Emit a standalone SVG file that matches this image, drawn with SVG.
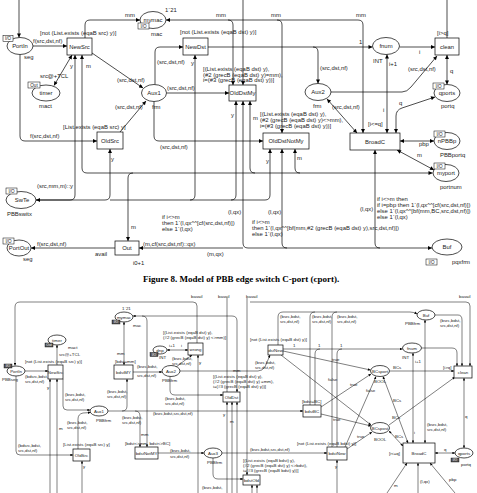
<svg xmlns="http://www.w3.org/2000/svg" width="477" height="493" viewBox="0 0 477 493">
<defs>
<marker id="a" viewBox="0 0 10 10" refX="10" refY="5" markerWidth="5" markerHeight="4" markerUnits="userSpaceOnUse" orient="auto-start-reverse"><path d="M0,0 L10,5 L0,10 z" fill="#000"/></marker>
<marker id="b" viewBox="0 0 10 10" refX="10" refY="5" markerWidth="3.2" markerHeight="2.6" markerUnits="userSpaceOnUse" orient="auto-start-reverse"><path d="M0,0 L10,5 L0,10 z" fill="#000"/></marker>
</defs>
<style>
text{font-family:"Liberation Sans",Arial,sans-serif;font-size:5.9px;fill:#222}
.m{text-anchor:middle}
text.s{font-size:4.4px}
text.tg{font-size:4.6px}
text.ts{font-size:3.4px;fill:#fff}
text.cap{font-family:"Liberation Serif","Times New Roman",serif;font-size:9px;font-weight:bold;fill:#000}
.node ellipse,.node rect{fill:#fff;stroke:#000;stroke-width:0.7}
.node rect.tag{fill:#fff;stroke:#000;stroke-width:0.5}
.node rect.tagd{fill:#555;stroke:#000;stroke-width:0.4}
#connectors path{fill:none;stroke:#000;stroke-width:0.7}
#connectors2 path{fill:none;stroke:#000;stroke-width:0.5}
</style>
<rect width="477" height="493" fill="#fff"/>

<g id="connectors">
<path d="M19,0 V37.5" marker-end="url(#a)"/>
<path d="M447,0 V38"/>
<path d="M243,0 V85" marker-end="url(#a)"/>
<path d="M85,38 V25 Q85,20 90,20 H140" marker-end="url(#a)"/>
<path d="M33,46 H67" marker-end="url(#a)"/>
<path d="M72,55 L54,85.5" marker-start="url(#a)" marker-end="url(#a)"/>
<path d="M92,53 L143,88" marker-end="url(#a)"/>
<path d="M120,132 L146,101" marker-end="url(#a)"/>
<path d="M155,84.5 V52 Q155,47 160,47 H183" marker-end="url(#a)"/>
<path d="M166.5,93 H229" marker-end="url(#a)"/>
<path d="M154,101.5 V136 Q154,141 159,141 H263" marker-end="url(#a)"/>
<path d="M208,47 H313 Q318,47 318,52 V83.5" marker-end="url(#a)"/>
<path d="M313,47 H372.5" marker-end="url(#a)"/>
<path d="M399.5,47 H435" marker-end="url(#a)"/>
<path d="M447,55 V84.5" marker-start="url(#a)" marker-end="url(#a)"/>
<path d="M331,92 H402 Q407,92 411,87 L437,56" marker-end="url(#a)"/>
<path d="M327,99 L357,133" marker-start="url(#a)" marker-end="url(#a)"/>
<path d="M387,54.5 V133" marker-start="url(#a)" marker-end="url(#a)"/>
<path d="M435,97 L402,108 Q396,110 396,116 V133" marker-start="url(#a)" marker-end="url(#a)"/>
<path d="M400,141 H434" marker-start="url(#a)" marker-end="url(#a)"/>
<path d="M397,150 L434,170" marker-start="url(#a)" marker-end="url(#a)"/>
<path d="M166,20 H228 Q233,20 233,25 V85" marker-start="url(#a)" marker-end="url(#a)"/>
<path d="M228,20 H277 Q282,20 282,25 V133" marker-end="url(#a)"/>
<path d="M277,20 H358 Q363,20 363,25 V133" marker-end="url(#a)"/>
<path d="M20,54.5 V136 Q20,141 25,141 H97" marker-end="url(#a)"/>
<path d="M110,149 V195 Q110,200 105,200 H36" marker-start="url(#a)" marker-end="url(#a)"/>
<path d="M75,55 V195 Q75,200 70,200 H36" marker-start="url(#a)"/>
<path d="M195,55 V195 Q195,200 190,200 H110" marker-start="url(#a)"/>
<path d="M236,101 V195 Q236,200 231,200 H190" marker-start="url(#a)"/>
<path d="M270,149 V195 Q270,200 265,200 H231" marker-start="url(#a)"/>
<path d="M82,55 V168 Q82,173 87,173 H432.5" marker-start="url(#a)" marker-end="url(#a)"/>
<path d="M250,101 V168 Q250,173 255,173" marker-start="url(#a)"/>
<path d="M295,149 V168 Q295,173 300,173" marker-start="url(#a)"/>
<path d="M128,241 V178 Q128,173 133,173" marker-start="url(#a)"/>
<path d="M243,101 V243 Q243,248 248,248 H432" marker-start="url(#a)" marker-end="url(#a)"/>
<path d="M282,149 V243 Q282,248 287,248" marker-start="url(#a)"/>
<path d="M375,150 V243 Q375,248 380,248" marker-start="url(#a)"/>
<path d="M115,248 H31" marker-end="url(#a)"/>
<path d="M243,248 H139" marker-end="url(#a)"/>
</g>

<g id="arclabels">
<text x="125" y="17">mm</text>
<text x="216" y="17">mm</text>
<text x="271" y="17">mm</text>
<text x="356" y="17">mm</text>
<text x="165" y="12">1`21</text>
<text x="33" y="43">f(src,dst,nf)</text>
<text x="40" y="35">[not (List.exists (eqaB src) y)]</text>
<text x="180" y="34">[not (List.exists (eqaB dst) y)]</text>
<text x="40" y="78">src@+TCL</text>
<text x="70" y="68">y</text>
<text x="86" y="68">m</text>
<text x="117" y="82">(src,dst,nf)</text>
<text x="115" y="109">(src,dst,nf)</text>
<text x="157" y="64">(src,dst,nf)</text>
<text x="191" y="65">y</text>
<text x="167" y="90">(src,dst,nf)</text>
<text x="203" y="71">[(List.exists (eqaB dst) y),</text>
<text x="203" y="76.5">(#2 (grecB (eqaB dst) y)=mm),</text>
<text x="203" y="82">i=(#3 (grecB (eqaB dst) y))]</text>
<text x="231" y="117">y</text>
<text x="253" y="120">m</text>
<text x="260" y="116">[(List.exists (eqaB dst) y),</text>
<text x="260" y="122">(#2 (grecB (eqaB dst) y)&lt;&gt;mm),</text>
<text x="260" y="128">i=(#3 (grecB (eqaB dst) y))]</text>
<text x="320" y="70">(src,dst,nf)</text>
<text x="359" y="44">1</text>
<text x="419" y="54">i</text>
<text x="437" y="35">[i&gt;q]</text>
<text x="450" y="73">q</text>
<text x="408" y="71">(src,dst,nf)</text>
<text x="332" y="109">(src,dst,nf)</text>
<text x="389" y="66">i+1</text>
<text x="383" y="112">i</text>
<text x="399" y="105">q</text>
<text x="368" y="126">[i&lt;=q]</text>
<text x="419" y="146">pbp</text>
<text x="417" y="157">m</text>
<text x="63" y="129">[List.exists (eqaB src) y]</text>
<text x="30" y="138">f(src,dst,nf)</text>
<text x="160" y="149">(src,dst,nf)</text>
<text x="111" y="161">y</text>
<text x="266" y="163">y</text>
<text x="297" y="160">m</text>
<text x="37" y="188">(src,mm,m)::y</text>
<text x="131" y="229">m</text>
<text x="228" y="214">(l,qx)</text>
<text x="268" y="214">(l,qx)</text>
<text x="360" y="211">(l,qx)</text>
<text x="162" y="219">if i&lt;&gt;m</text>
<text x="162" y="225">then 1`(l,qx^^[cf(src,dst,nf)])</text>
<text x="162" y="231">else 1`(l,qx)</text>
<text x="252" y="224">if i&lt;&gt;m</text>
<text x="252" y="230">then 1`(l,qx^^[bf(mm,#2 (grecB (eqaB dst) y),src,dst,nf)])</text>
<text x="252" y="236">else 1`(l,qx)</text>
<text x="377" y="201">if i&lt;&gt;m then</text>
<text x="377" y="207">if i=pbp then 1`(l,qx^^[cf(src,dst,nf)])</text>
<text x="377" y="213">else 1`(l,qx^^[bf(mm,BC,src,dst,nf)])</text>
<text x="377" y="219">else 1`(l,qx)</text>
<text x="37" y="246">f(src,dst,nf)</text>
<text x="143" y="246">(m,cf(src,dst,nf)::qx)</text>
<text x="207" y="256">(m,qx)</text>
</g>

<g id="PortIn" class="node"><ellipse cx="20" cy="46" rx="13" ry="8.5"/><text class="m" x="20" y="48">PortIn</text><rect class="tag" x="3" y="35.5" width="10" height="6"/><text class="tg m" x="8" y="40.3">I/O</text><text x="24" y="59">seg</text></g>
<g id="NewSrc" class="node"><rect x="67" y="38" width="25" height="17"/><text class="m" x="79.5" y="48.5">NewSrc</text></g>
<g id="mymac" class="node"><ellipse cx="153" cy="20" rx="13" ry="8.5"/><text class="m" x="153" y="22">mymac</text><rect class="tag" x="138" y="23" width="11" height="6"/><text class="tg m" x="143.5" y="27.8">I/O</text><text x="151" y="36">mac</text></g>
<g id="timer" class="node"><ellipse cx="46" cy="93" rx="14" ry="8"/><text class="m" x="46" y="95">timer</text><rect class="tag" x="28" y="82" width="12" height="6"/><text class="tg m" x="34" y="86.8">Out</text><text x="39" y="108">mact</text></g>
<g id="Aux1" class="node"><ellipse cx="154" cy="93" rx="12.5" ry="8.5"/><text class="m" x="154" y="95">Aux1</text><text x="152" y="109">frm</text></g>
<g id="NewDst" class="node"><rect x="183" y="38" width="25" height="17"/><text class="m" x="195.5" y="48.5">NewDst</text></g>
<g id="OldDstMy" class="node"><rect x="229" y="85" width="27" height="16"/><text class="m" x="242.5" y="95">OldDstMy</text></g>
<g id="fnum" class="node"><ellipse cx="386" cy="46" rx="13.5" ry="8.5"/><text class="m" x="386" y="48">fnum</text><text x="373" y="63">INT</text></g>
<g id="clean" class="node"><rect x="435" y="38" width="24" height="17"/><text class="m" x="447" y="48.5">clean</text></g>
<g id="Aux2" class="node"><ellipse cx="318" cy="92" rx="13" ry="8.5"/><text class="m" x="318" y="94">Aux2</text><text x="313" y="108">frm</text></g>
<g id="qports" class="node"><ellipse cx="447" cy="93" rx="13" ry="8.5"/><text class="m" x="447" y="95">qports</text><rect class="tag" x="433" y="83" width="11" height="6"/><text class="tg m" x="438.5" y="87.8">I/O</text><text x="441" y="108">portq</text></g>
<g id="OldSrc" class="node"><rect x="97" y="132" width="26" height="17"/><text class="m" x="110" y="142.5">OldSrc</text></g>
<g id="OldDstNotMy" class="node"><rect x="263" y="133" width="46" height="16"/><text class="m" x="286" y="143">OldDstNotMy</text></g>
<g id="BroadC" class="node"><rect x="350" y="133" width="50" height="17"/><text class="m" x="375" y="143.5">BroadC</text></g>
<g id="nPBBp" class="node"><ellipse cx="447" cy="141" rx="13" ry="8.5"/><text class="m" x="447" y="143">nPBBp</text><rect class="tag" x="434" y="131" width="11" height="6"/><text class="tg m" x="439.5" y="135.8">I/O</text><text x="440" y="157">PBBportq</text></g>
<g id="myport" class="node"><ellipse cx="446" cy="173" rx="13" ry="8.5"/><text class="m" x="446" y="175">myport</text><rect class="tag" x="434" y="163" width="11" height="6"/><text class="tg m" x="439.5" y="167.8">I/O</text><text x="440" y="189">portnum</text></g>
<g id="SwTe" class="node"><ellipse cx="21" cy="200" rx="15" ry="8.5"/><text class="m" x="22" y="202">SwTe</text><rect class="tag" x="6" y="188" width="11" height="6"/><text class="tg m" x="11.5" y="192.8">I/O</text><text x="7" y="216">PBBswitx</text></g>
<g id="PortOut" class="node"><ellipse cx="19" cy="248" rx="12" ry="8"/><text class="m" x="19" y="250">PortOut</text><rect class="tag" x="3" y="238" width="11" height="6"/><text class="tg m" x="8.5" y="242.8">I/O</text><text x="23" y="261">seg</text></g>
<g id="Out" class="node"><rect x="115" y="241" width="24" height="14"/><text class="m" x="127" y="250">Out</text><text x="95" y="256">avail</text><text x="133" y="265">i0+1</text></g>
<g id="Buf" class="node"><ellipse cx="447" cy="247" rx="15" ry="8"/><text class="m" x="447" y="249">Buf</text><rect class="tag" x="426" y="259" width="11" height="6"/><text class="tg m" x="431.5" y="263.8">I/O</text><text x="452" y="264">pqxfrm</text></g>

<text class="cap" x="143" y="282">Figure 8. Model of PBB edge switch C-port (cport).</text>

<g id="connectors2">
<path d="M197,343 V306 Q197,302 193,302 H20 Q15,302 15,307 V365.5" marker-end="url(#b)"/>
<path d="M227,298 V392"/>
<path d="M247,298 V475" marker-end="url(#b)"/>
<path d="M250,302 H466 Q470,302 470,306 V366" marker-end="url(#b)"/>
<path d="M133,316 H232 Q237,316 237,321 V392" marker-start="url(#b)" marker-end="url(#b)"/>
<path d="M124,322 V365" marker-start="url(#b)" marker-end="url(#b)"/>
<path d="M142,316 Q147,316 147,321 V447" marker-end="url(#b)"/>
<path d="M57,365 V345" marker-end="url(#b)"/>
<path d="M25,371 H48" marker-end="url(#b)"/>
<path d="M63,379 V406 Q63,410 67,410 H90" marker-end="url(#b)"/>
<path d="M78,449 V419 Q78,414 83,413 L90.5,412.5" marker-end="url(#b)"/>
<path d="M16,376 V451 Q16,455 20,455 H73" marker-end="url(#b)"/>
<path d="M50,493 V379" marker-end="url(#b)"/>
<path d="M57,493 V379" marker-end="url(#b)"/>
<path d="M82,493 V461" marker-end="url(#b)"/>
<path d="M108,411 H122 Q127,411 127,406 V379" marker-end="url(#b)"/>
<path d="M122,411 H135 Q140,411 140,416 V447" marker-end="url(#b)"/>
<path d="M135,411 H303" marker-end="url(#b)"/>
<path d="M133,372 H162" marker-end="url(#b)"/>
<path d="M158,453 H204" marker-end="url(#b)"/>
<path d="M176,367 L192,355" marker-end="url(#b)"/>
<path d="M167,350 H188" marker-start="url(#b)" marker-end="url(#b)"/>
<path d="M198,493 V355" marker-end="url(#b)"/>
<path d="M180,371 H258 Q262,371 265,367 L270,355" marker-end="url(#b)"/>
<path d="M170,376.5 V390 Q170,395 175,395 H223" marker-end="url(#b)"/>
<path d="M227,493 V402" marker-end="url(#b)"/>
<path d="M232,493 V402" marker-end="url(#b)"/>
<path d="M237,493 V402" marker-end="url(#b)"/>
<path d="M278,345 V317 Q278,312 283,312 H410 Q414,312 417,314" marker-end="url(#b)"/>
<path d="M310,405 V317 Q310,312 315,312"/>
<path d="M332,447 V317 Q332,312 337,312"/>
<path d="M283,349 H402.5" marker-end="url(#b)"/>
<path d="M315,405 V354 Q315,349 320,349"/>
<path d="M337,447 V354 Q337,349 342,349"/>
<path d="M435,315 H458 Q462,315 462,320 V366" marker-end="url(#b)"/>
<path d="M425,320 V443" marker-start="url(#b)" marker-end="url(#b)"/>
<path d="M421.5,348 H452 Q457,348 457,353 V366" marker-end="url(#b)"/>
<path d="M413,353 V443" marker-start="url(#b)" marker-end="url(#b)"/>
<path d="M464,378 V448" marker-start="url(#b)" marker-end="url(#b)"/>
<path d="M389.5,371 H454" marker-end="url(#b)"/>
<path d="M389,425 L455,377" marker-end="url(#b)"/>
<path d="M383,376.5 L408,443" marker-start="url(#b)" marker-end="url(#b)"/>
<path d="M389,431 L403,446" marker-start="url(#b)" marker-end="url(#b)"/>
<path d="M435,453 H455" marker-start="url(#b)" marker-end="url(#b)"/>
<path d="M387,493 L407,463" marker-end="url(#b)"/>
<path d="M418,493 V463" marker-end="url(#b)"/>
<path d="M455,493 L430,463" marker-end="url(#b)"/>
<path d="M283,351 L370.5,370" marker-end="url(#b)"/>
<path d="M281,355 L371,425" marker-end="url(#b)"/>
<path d="M321,407 L371,374" marker-end="url(#b)"/>
<path d="M321,414 L371,426" marker-end="url(#b)"/>
<path d="M345,447 L376,376.5" marker-end="url(#b)"/>
<path d="M347,449 L372,432" marker-end="url(#b)"/>
<path d="M222,453 H327" marker-end="url(#b)"/>
<path d="M213,458 V474 Q213,479 218,479 H243" marker-end="url(#b)"/>
<path d="M252,493 V485" marker-end="url(#b)"/>
<path d="M257,493 V485" marker-end="url(#b)"/>
<path d="M337,493 V460" marker-end="url(#b)"/>
</g>

<g id="arclabels2">
<text class="s" x="191" y="298">bavail</text>
<text class="s" x="218" y="298">bavail</text>
<text class="s" x="246" y="298">bavail</text>
<text class="s" x="459" y="298">bavail</text>
<text class="s" x="122" y="310">1`21</text>
<text class="s" x="117" y="355">mm</text>
<text class="s" x="141" y="436">mm</text>
<text class="s" x="233" y="372">mm</text>
<text class="s" x="59" y="356">src@+TCL</text>
<text class="s" x="25" y="363">[not (List.exists (eqaB src) y)]</text>
<text class="s" x="25" y="378">(bdsrc,bdst,</text><text class="s" x="25" y="382.5">src,dst,nf)</text>
<text class="s" x="65" y="396">(bsrc,bdst,</text><text class="s" x="65" y="400.5">src,dst,nf)</text>
<text class="s" x="107" y="393">(bsrc,bdst,</text><text class="s" x="107" y="397.5">src,dst,nf)</text>
<text class="s" x="67" y="424">(bsrc,bdst,</text><text class="s" x="67" y="428.5">src,dst,nf)</text>
<text class="s" x="122" y="419">(bsrc,bdst,</text><text class="s" x="122" y="423.5">src,dst,nf)</text>
<text class="s" x="18" y="447">(bdsrc,bdst,</text><text class="s" x="18" y="451.5">src,dst,nf)</text>
<text class="s" x="63" y="446">[List.exists (eqaB src) y]</text>
<text class="s" x="47" y="389">y</text>
<text class="s" x="59" y="430">m</text>
<text class="s" x="83" y="468">y</text>
<text class="s" x="115" y="363">[bdst=mm]</text>
<text class="s" x="137" y="368">(bsrc,bdst,</text><text class="s" x="137" y="376.5">src,dst,nf)</text>
<text class="s" x="125" y="445">[bdst&lt;&gt;mm, bdst&lt;&gt;BC]</text>
<text class="s" x="153" y="415">(bsrc,bdst,src,dst,nf)</text>
<text class="s" x="170" y="452">(bsrc,bdst,</text><text class="s" x="170" y="457.5">src,dst,nf)</text>
<text class="s" x="163" y="334">[(List.exists (eqaB dst) y),</text>
<text class="s" x="163" y="339">(#2 (grecB (eqaB dst) y) &lt;&gt;mm)]</text>
<text class="s" x="169" y="347">i+1</text>
<text class="s" x="181" y="347">i</text>
<text class="s" x="172" y="360">(bsrc,bdst,</text><text class="s" x="172" y="364.5">src,dst,nf)</text>
<text class="s" x="199" y="364">y</text>
<text class="s" x="255" y="364">(bsrc,bdst,</text><text class="s" x="255" y="368.5">src,dst,nf)</text>
<text class="s" x="213" y="378">[(List.exists (eqaB dst) y),</text>
<text class="s" x="213" y="383">(#2 (grecB (eqaB dst) y) =mm),</text>
<text class="s" x="213" y="388">i=(#3 (grecB (eqaB dst) y))]</text>
<text class="s" x="165" y="400">(bsrc,bdst,</text><text class="s" x="165" y="404.5">src,dst,nf)</text>
<text class="s" x="223" y="416">y</text>
<text class="s" x="230" y="423">m</text>
<text class="s" x="250" y="341">[not (List.exists (eqaB dst) y)]</text>
<text class="s" x="280" y="318">(bsrc,bdst,</text><text class="s" x="280" y="322.5">src,dst,nf)</text>
<text class="s" x="312" y="318">(bsrc,bdst,</text><text class="s" x="312" y="322.5">src,dst,nf)</text>
<text class="s" x="337" y="318">(bsrc,bdst,</text><text class="s" x="337" y="322.5">src,dst,nf)</text>
<text class="s" x="293" y="347">1</text>
<text class="s" x="318" y="347">1</text>
<text class="s" x="340" y="347">1</text>
<text class="s" x="302" y="403">[bdst=BC]</text>
<text class="s" x="332" y="361">true</text>
<text class="s" x="328" y="381">false</text>
<text class="s" x="350" y="386">true</text>
<text class="s" x="333" y="421">true</text>
<text class="s" x="366" y="392">false</text>
<text class="s" x="357" y="438">true</text>
<text class="s" x="297" y="445">[not (List.exists (eqaB bdst) y)]</text>
<text class="s" x="250" y="451">(bsrc,bdst,src,dst,nf)</text>
<text class="s" x="243" y="462">[(List.exists (eqaB bdst) y),</text>
<text class="s" x="243" y="467">(#2 (grecB (eqaB dst) y) &lt;&gt;bdst),</text>
<text class="s" x="243" y="472">i=(#3 (grecB (eqaB bdst) y))]</text>
<text class="s" x="202" y="489">(bsrc,bdst,</text>
<text class="s" x="335" y="468">y</text>
<text class="s" x="440" y="322">(bsrc,bdst,</text><text class="s" x="440" y="326.5">src,dst,nf)</text>
<text class="s" x="427" y="426">(bsrc,bdst,</text><text class="s" x="427" y="430.5">src,dst,nf)</text>
<text class="s" x="443" y="369">[i&gt;q]</text>
<text class="s" x="393" y="369">BCs</text>
<text class="s" x="392" y="419">BCs</text>
<text class="s" x="393" y="402">BCs</text>
<text class="s" x="395" y="438">BCs</text>
<text class="s" x="414" y="434">i</text>
<text class="s" x="465" y="418">q</text>
<text class="s" x="444" y="451">q</text>
<text class="s" x="389" y="455">[i&lt;=q]</text>
<text class="s" x="394" y="487">m</text>
<text class="s" x="420" y="483">(l,qx)</text>
<text class="s" x="449" y="481">pbp</text>
</g>

<g id="b_mymac" class="node"><ellipse cx="124" cy="317" rx="9" ry="5"/><text class="s m" x="124" y="318.5">mymac</text><rect class="tagd" x="112" y="320" width="8" height="4"/><text class="ts m" x="116" y="323">I/O</text><text class="s" x="133" y="327">mac</text></g>
<g id="b_timer" class="node"><ellipse cx="57" cy="340" rx="9" ry="5"/><text class="s m" x="57" y="341.5">timer</text><rect class="tagd" x="45" y="343" width="8" height="4"/><text class="ts m" x="49" y="346">Out</text><text class="s" x="68" y="349">mact</text></g>
<g id="b_PortIn" class="node"><ellipse cx="16" cy="371" rx="9" ry="5"/><text class="s m" x="16" y="372.5">PortIn</text><rect class="tagd" x="4" y="364" width="8" height="4"/><text class="ts m" x="8" y="367">I/O</text><text class="s" x="2" y="381">PBBseg</text></g>
<g id="b_NewSrc" class="node"><rect x="48" y="365" width="15" height="14"/><text class="s m" x="55.5" y="373.5">NewSrc</text></g>
<g id="b_Aux1" class="node"><ellipse cx="99" cy="411" rx="9" ry="5"/><text class="s m" x="99" y="412.5">Aux1</text><text class="s" x="96" y="422">PBBfrm</text></g>
<g id="b_OldSrc" class="node"><rect x="73" y="449" width="17" height="12"/><text class="s m" x="81.5" y="456.5">OldSrc</text></g>
<g id="b_bdstMY" class="node"><rect x="114" y="365" width="19" height="14"/><text class="s m" x="123.5" y="373.5">bdstMY</text></g>
<g id="b_bdstNotMY" class="node"><rect x="135" y="447" width="23" height="12"/><text class="s m" x="146.5" y="454.5">bdstNotMY</text></g>
<g id="b_Aux2" class="node"><ellipse cx="171" cy="371" rx="9" ry="5.5"/><text class="s m" x="171" y="372.5">Aux2</text><text class="s" x="162" y="382">PBBfrm</text></g>
<g id="b_dnp" class="node"><ellipse cx="160" cy="350" rx="7" ry="4"/><text class="s m" x="160" y="351.5">dnp</text><rect class="tagd" x="150" y="352.5" width="8" height="4"/><text class="ts m" x="154" y="355.5">I/O</text><text class="s" x="159" y="359">INT</text></g>
<g id="b_wrong" class="node"><rect x="188" y="343" width="15" height="12"/><text class="s m" x="195.5" y="350.5">wrong</text></g>
<g id="b_OldDst" class="node"><rect x="223" y="392" width="17" height="10"/><text class="s m" x="231.5" y="398.5">OldDst</text></g>
<g id="b_dstNew" class="node"><rect x="268" y="345" width="15" height="10"/><text class="s m" x="275.5" y="351.5">dstNew</text></g>
<g id="b_Aux3" class="node"><ellipse cx="213" cy="453" rx="9" ry="5"/><text class="s m" x="213" y="454.5">Aux3</text><text class="s" x="207" y="464">PBBfrm</text></g>
<g id="b_bdstOld" class="node"><rect x="243" y="475" width="17" height="10"/><text class="s m" x="251.5" y="481.5">bdstOld</text></g>
<g id="b_bdstBC" class="node"><rect x="303" y="405" width="18" height="12"/><text class="s m" x="312" y="412.5">bdstBC</text></g>
<g id="b_bdstNew" class="node"><rect x="327" y="447" width="20" height="13"/><text class="s m" x="337" y="455">bdstNew</text></g>
<g id="b_Buf" class="node"><ellipse cx="426" cy="315" rx="9" ry="5"/><text class="s m" x="426" y="316.5">Buf</text><text class="s" x="405" y="325">PBBfrm</text></g>
<g id="b_fnum" class="node"><ellipse cx="412" cy="348" rx="9.5" ry="5"/><text class="s m" x="412" y="349.5">fnum</text><text class="s" x="402" y="359">INT</text><text class="s" x="415" y="363">i+1</text></g>
<g id="b_clean" class="node"><rect x="454" y="366" width="18" height="12"/><text class="s m" x="463" y="373.5">clean</text></g>
<g id="b_BCsport" class="node"><ellipse cx="380" cy="371" rx="9.5" ry="5.5"/><text class="s m" x="380" y="372.5">BCsport</text><text class="s" x="374" y="383">BOOL</text></g>
<g id="b_BCspost" class="node"><ellipse cx="380" cy="428" rx="9.5" ry="5.5"/><text class="s m" x="380" y="429.5">BCspost</text><text class="s" x="374" y="441">BOOL</text></g>
<g id="b_BroadC" class="node"><rect x="403" y="443" width="32" height="20"/><text class="s m" x="419" y="454.5">BroadC</text></g>
<g id="b_qports" class="node"><ellipse cx="464" cy="453" rx="9" ry="5"/><text class="s m" x="464" y="454.5">qports</text><rect class="tagd" x="451" y="458" width="8" height="4"/><text class="ts m" x="455" y="461">I/O</text><text class="s" x="461" y="466">portq</text></g>
</svg>
